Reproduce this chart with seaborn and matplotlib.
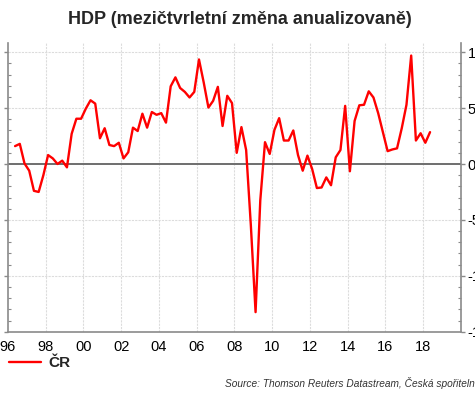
import numpy as np
import pandas as pd
import matplotlib
matplotlib.use("Agg")
import matplotlib.pyplot as plt
import seaborn as sns
from matplotlib.ticker import MultipleLocator, FixedLocator, FixedFormatter

# ---- data -------------------------------------------------------------
first_quarter = "1996Q2"
last_quarter = "2018Q2"
gdp_qoq_annualized = [
    1.6, 1.8, 0.05,
    -0.6, -2.4, -2.5, -1.0,
    0.8, 0.5, 0.0, 0.3,
    -0.3, 2.7, 4.05, 4.05,
    4.95, 5.7, 5.4, 2.3,
    3.2, 1.7, 1.6, 1.9,
    0.5, 1.05, 3.25, 2.95,
    4.5, 3.25, 4.65, 4.4,
    4.55, 3.7, 6.95, 7.75,
    6.8, 6.45, 5.95, 6.45,
    9.35, 7.3, 5.05, 5.65,
    6.9, 3.4, 6.1, 5.45,
    1.0, 3.3, 1.25, -5.5,
    -13.25, -3.25, 1.95, 0.9,
    3.05, 4.1, 2.1, 2.1,
    3.0, 0.8, -0.6, 0.75,
    -0.45, -2.15, -2.1, -1.2,
    -1.9, 0.6, 1.25, 5.2,
    -0.65, 3.85, 5.25, 5.3,
    6.5, 5.95, 4.55, 2.85,
    1.15, 1.3, 1.4, 3.2,
    5.3, 9.7, 2.1, 2.75,
    1.9, 2.85,
]
x_tick_years = [1996, 1998, 2000, 2002, 2004, 2006, 2008, 2010, 2012, 2014, 2016, 2018]
x_tick_labels = ["96", "98", "00", "02", "04", "06", "08", "10", "12", "14", "16", "18"]
y_ticks = [-15, -10, -5, 0, 5, 10]
y_tick_labels = ["-15", "-10", "-5", "0", "5", "10"]
series_name = "ČR"
title = "HDP (mezičtvrletní změna anualizovaně)"
source = "Source: Thomson Reuters Datastream, Česká spořitelna"

# ---- build table ------------------------------------------------------
periods = pd.period_range(first_quarter, last_quarter, freq="Q")
df = pd.DataFrame({
    "t": periods.year + (periods.quarter - 1) / 4 + 0.125,
    "v": gdp_qoq_annualized,
})

sns.set_style("white")
plt.rcParams["font.family"] = ["Liberation Sans", "DejaVu Sans"]

fig = plt.figure(figsize=(4.75, 3.96), dpi=100)
ax = fig.add_axes([8 / 475, 1 - 331.7 / 396, 452.7 / 475, 289 / 396])

sns.lineplot(data=df, x="t", y="v", ax=ax, color="#ff0000", lw=1.7,
             label=series_name, legend=False)

ax.set_xlim(1996, 2020)
ax.set_ylim(-15, 10.85)
ax.set_xlabel("")
ax.set_ylabel("")

# grid
for yv in [10, 5, -5, -10]:
    ax.axhline(yv, color="#dcdcdc", lw=0.8, ls=(0, (2, 1)), zorder=0)
for xv in x_tick_years[1:]:
    ax.axvline(xv, color="#dcdcdc", lw=0.8, ls=(0, (2, 1)), zorder=0)
ax.axhline(0, color="#6e6e6e", lw=1.4, zorder=1)

# spines
ax.spines["top"].set_visible(False)
for s in ["left", "right", "bottom"]:
    ax.spines[s].set_color("#8a8a8a")
    ax.spines[s].set_linewidth(1.2)

# ticks
ax.xaxis.set_major_locator(FixedLocator(x_tick_years))
ax.xaxis.set_major_formatter(FixedFormatter(x_tick_labels))
ax.xaxis.set_minor_locator(MultipleLocator(0.25))
ax.yaxis.set_major_locator(FixedLocator(y_ticks))
ax.yaxis.set_major_formatter(FixedFormatter(y_tick_labels))
ax.yaxis.set_minor_locator(MultipleLocator(1))
ax.yaxis.set_ticks_position("both")
ax.tick_params(axis="y", which="both", labelleft=False, labelright=True)
ax.tick_params(axis="both", which="major", direction="out", length=3,
               width=1, color="#8a8a8a", labelsize=10.5, labelcolor="black", pad=2)
ax.tick_params(axis="both", which="minor", direction="in", length=2.5,
               width=0.8, color="#8a8a8a")
ax.tick_params(axis="x", which="major", pad=3)

# title
fig.text(240 / 475, 1 - 20 / 396, title, ha="center", va="center",
         fontsize=13, fontweight="bold")

# legend
handles, labels = ax.get_legend_handles_labels()
leg = fig.legend(handles, labels, loc="center left",
                 bbox_to_anchor=(9 / 475, 1 - 363 / 396), frameon=False,
                 borderpad=0, borderaxespad=0, handlelength=2.1,
                 handletextpad=0.45, prop={"size": 11, "weight": "bold"})

# source
fig.text(225 / 475, 1 - 383 / 396, source, ha="left", va="center",
         fontsize=7.3, style="italic", color="#333333")

fig.savefig("out.png", dpi=100)
